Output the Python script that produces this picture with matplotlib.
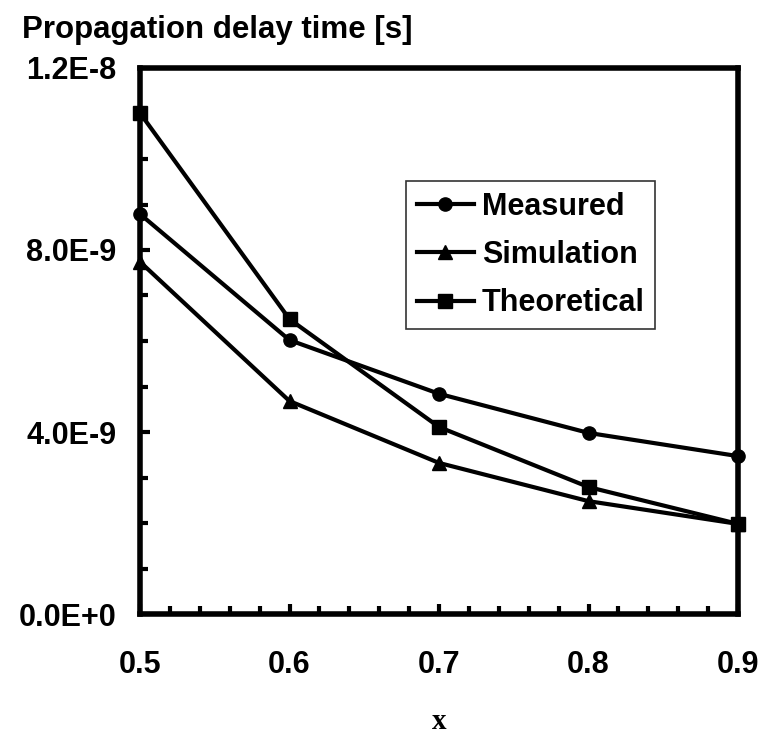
import matplotlib
matplotlib.use("Agg")
import matplotlib.pyplot as plt
from matplotlib.ticker import MultipleLocator, FuncFormatter

x = [0.5, 0.6, 0.7, 0.8, 0.9]
measured = [8.79e-9, 6.02e-9, 4.84e-9, 3.98e-9, 3.47e-9]
simulation = [7.74e-9, 4.68e-9, 3.32e-9, 2.48e-9, 1.98e-9]
theoretical = [11.01e-9, 6.48e-9, 4.11e-9, 2.79e-9, 1.98e-9]
ytick_labels = ["0.0E+0", "4.0E-9", "8.0E-9", "1.2E-8"]

plt.rcParams['font.family'] = ['Liberation Sans', 'DejaVu Sans']
plt.rcParams['font.weight'] = 'bold'

fig = plt.figure(figsize=(7.58, 7.38), dpi=100)
ax = fig.add_axes([140/758, 1-614/738, 598/758, (614-68)/738])

lw = 3
ax.plot(x, measured, color='black', lw=lw, marker='o', ms=9.5, label='Measured', clip_on=False)
ax.plot(x, simulation, color='black', lw=lw, marker='^', ms=10.5, label='Simulation', clip_on=False)
ax.plot(x, theoretical, color='black', lw=lw, marker='s', ms=10, label='Theoretical', clip_on=False)

ax.set_xlim(0.5, 0.9)
ax.set_ylim(0, 1.2e-8)
ax.xaxis.set_major_locator(MultipleLocator(0.1))
ax.xaxis.set_minor_locator(MultipleLocator(0.02))
ax.yaxis.set_major_locator(MultipleLocator(4e-9))
ax.yaxis.set_minor_locator(MultipleLocator(1e-9))
ax.yaxis.set_major_formatter(FuncFormatter(lambda v, p: ytick_labels[int(round(v / 4e-9))] if 0 <= int(round(v / 4e-9)) < len(ytick_labels) else ""))
ax.xaxis.set_major_formatter(FuncFormatter(lambda v, p: f"{v:.1f}"))

for s in ax.spines.values():
    s.set_linewidth(4)
ax.tick_params(axis='both', which='major', direction='in', length=7, width=3, labelsize=22)
ax.tick_params(axis='both', which='minor', direction='in', length=5.5, width=3)
ax.tick_params(axis='x', which='major', pad=26)
ax.tick_params(axis='y', which='major', pad=17)

fig.text(22/758, 1-30/738, "Propagation delay time [s]", fontsize=22.5, fontweight='bold', va='center', ha='left')
ax.set_xlabel("x", fontsize=21, fontweight='bold', family=['Liberation Serif'], labelpad=20)

leg = ax.legend(loc='upper left', bbox_to_anchor=((406-140)/598, (614-181)/546), frameon=True,
                fancybox=False, edgecolor='black', fontsize=22, handlelength=1.87,
                handletextpad=0.26, borderpad=0.35, labelspacing=0.6, borderaxespad=0)
leg.get_frame().set_linewidth(1.2)

fig.savefig("out.png", dpi=100)
